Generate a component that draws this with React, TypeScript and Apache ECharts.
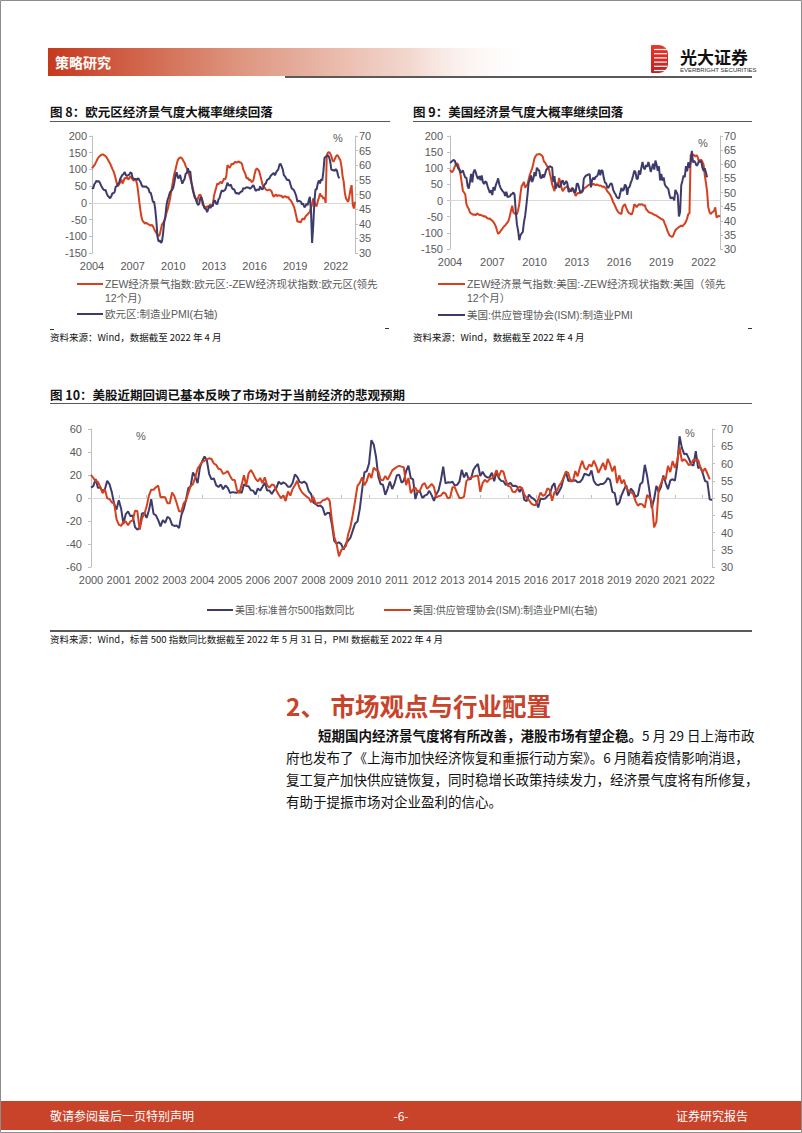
import React, { useEffect, useRef } from "react";
import * as echarts from "echarts";

// ---------------- data ----------------
// Fig 8: ZEW expectations - current situation, euro area (led 12 months), 2004-01 .. 2023-06
const ZEW_EURO: number[] = [
  103, 108, 112, 118, 125, 132, 137, 140, 143, 145, 145, 142,
  140, 136, 130, 124, 118, 110, 102, 95, 85, 72, 58, 50,
  55, 62, 70, 58, 65, 75, 72, 78, 70, 73, 80, 76,
  70, 66, 72, 68, 55, 30, 0, -25, -45, -55, -58, -62,
  -60, -62, -64, -66, -68, -66, -70, -78, -85, -90, -95, -100,
  -95, -80, -65, -60, -55, -45, -30, -20, -5, 10, 30, 50,
  70, 88, 100, 115, 128, 133, 136, 135, 132, 125, 120, 110,
  103, 95, 85, 73, 60, 48, 33, 20, 10, 3, 15, 23,
  25, 15, -5, -8, -12, -15, -10, -12, -8, -5, -8, -10,
  20, 33, 45, 58, 55, 60, 63, 58, 65, 73, 70, 80,
  113, 108, 105, 112, 118, 115, 120, 123, 120, 122, 124, 121,
  121, 115, 100, 93, 85, 73, 75, 68, 70, 65, 62, 68,
  85, 98, 103, 100, 95, 83, 70, 55, 48, 45, 40, 38,
  38, 40, 38, 35, 25, 18, 22, 25, 20, 23, 22, 21,
  21, 15, 18, 20, 18, 15, 18, 10, 8, 2, -5, -12,
  -25, -40, -57, -55, -57, -58, -50, -47, -50, -42, -37, -35,
  -30, -27, -15, -5, 13, 5, -7, -10, 5, 15, 28, 20,
  20, 12, 15, 0, 143, 150, 152, 148, 140, 128, 123, 130,
  138, 143, 140, 133, 128, 110, 80, 63, 30, 13, 8, 3,
  20, 40, 53, -5, -17, 3,
];

// Fig 8: Euro area manufacturing PMI, 2004-01 .. 2022-04
const PMI_EURO: number[] = [
  52.4, 52.0, 53.4, 54.0, 54.7, 54.4, 54.6, 54.0, 53.1, 52.4, 51.8, 51.4,
  51.6, 50.4, 49.5, 49.2, 48.7, 49.3, 50.4, 50.4, 50.8, 52.7, 52.8, 53.6,
  54.0, 55.4, 56.1, 56.7, 57.0, 57.7, 56.6, 56.5, 56.6, 56.8, 57.5, 57.4,
  55.6, 55.4, 55.1, 55.4, 55.0, 55.6, 54.9, 54.3, 53.2, 52.6, 52.8, 52.6,
  52.8, 52.3, 52.0, 50.7, 50.6, 49.2, 47.4, 47.6, 45.0, 41.1, 35.6, 33.9,
  34.4, 33.5, 33.9, 36.8, 40.7, 42.6, 46.3, 48.2, 49.3, 50.7, 51.2, 51.6,
  52.4, 54.2, 56.6, 57.6, 55.8, 55.6, 56.7, 55.1, 53.7, 54.6, 55.3, 57.1,
  57.3, 59.0, 57.5, 58.0, 54.6, 52.0, 50.4, 49.0, 48.5, 47.1, 46.4, 46.9,
  48.8, 49.0, 47.7, 45.9, 45.1, 45.1, 44.0, 45.1, 46.1, 45.4, 46.2, 46.1,
  47.9, 47.9, 46.8, 46.7, 48.3, 48.8, 50.3, 51.4, 51.1, 51.3, 51.6, 52.7,
  54.0, 53.2, 53.0, 53.4, 52.2, 51.8, 51.8, 50.7, 50.3, 50.6, 50.1, 50.6,
  51.0, 51.0, 52.2, 52.0, 52.2, 52.5, 52.4, 52.3, 52.0, 52.3, 52.8, 53.2,
  52.3, 51.2, 51.6, 51.7, 51.5, 52.8, 52.0, 51.7, 52.6, 53.5, 53.7, 54.9,
  55.2, 55.4, 56.2, 56.7, 57.0, 57.4, 56.6, 57.4, 58.1, 58.5, 60.1, 60.6,
  59.6, 58.6, 56.6, 56.2, 55.5, 54.9, 55.1, 54.6, 53.2, 52.0, 51.8, 51.4,
  50.5, 49.3, 47.5, 47.9, 47.7, 47.6, 46.5, 47.0, 45.7, 45.9, 46.9, 46.3,
  47.9, 49.2, 44.5, 33.4, 39.4, 47.4, 51.8, 51.7, 53.7, 54.8, 53.8, 55.2,
  54.8, 57.9, 62.5, 62.9, 63.1, 63.4, 62.8, 61.4, 58.6, 58.3, 58.4, 58.0,
  58.7, 58.2, 56.5, 55.5,
];

// Fig 9: ZEW expectations - current situation, USA (led 12 months), 2004-01 .. 2023-03
const ZEW_US: number[] = [
  95, 90, 88, 95, 105, 112, 116, 110, 95, 80, 55, 30,
  25, 19, -11, -20, -26, -37, -40, -42, -44, -43, -45, -40,
  -42, -45, -44, -46, -47, -50, -48, -52, -55, -57, -55, -60,
  -62, -67, -72, -80, -92, -103, -100, -95, -90, -85, -80, -77,
  -72, -68, -62, -47, -30, -16, -37, -40, -42, -42, -30, -11,
  20, 45, 50, 58, 40, 45, 50, 65, 80, 90, 100, 115,
  131, 138, 143, 143, 144, 143, 140, 136, 121, 118, 111, 105,
  100, 85, 70, 50, 40, 29, 55, 52, 50, 70, 55, 40,
  29, 35, 40, 42, 45, 38, 35, 29, 30, 35, 25, 14,
  20, 24, 22, 25, 29, 32, 36, 40, 42, 45, 48, 50,
  50, 48, 52, 50, 48, 50, 48, 46, 47, 45, 42, 44,
  40, 36, 29, 25, 20, 14, 5, -5, -11, -20, -28, -34,
  -38, -40, -42, -21, -15, -11, -21, -30, -37, -40, -42, -42,
  -30, -11, -15, -21, -15, -11, -14, -11, -12, -16, -14, -26,
  -30, -35, -37, -38, -40, -42, -44, -45, -47, -50, -52, -54,
  -57, -58, -62, -72, -80, -92, -100, -108, -110, -113, -110, -100,
  -92, -88, -85, -82, -80, -77, -80, -75, -72, -65, -55, -42,
  -40, 141, 142, 143, 140, 136, 141, 135, 121, 126, 126, 120,
  111, 80, 55, 29, -21, -35, -42, -37, -35, -31, -21, -52,
  -50, -47, -50,
];

// ISM manufacturing PMI, 2000-01 .. 2022-04 (Fig 9 blue from 2004, Fig 10 red)
const ISM_PMI: number[] = [
  56.7, 55.8, 54.9, 54.7, 53.2, 51.4, 52.5, 49.9, 49.7, 48.7, 48.5, 43.9,
  42.3, 41.9, 43.1, 43.2, 42.1, 43.2, 43.5, 46.3, 46.2, 40.8, 44.1, 45.3,
  47.5, 50.7, 52.4, 52.4, 53.1, 53.6, 50.2, 50.3, 50.2, 48.5, 48.5, 51.6,
  50.5, 48.5, 46.2, 46.0, 48.5, 49.2, 51.5, 53.5, 54.0, 56.0, 58.5, 59.5,
  60.5, 60.8, 61.2, 61.5, 61.3, 60.0, 59.6, 58.5, 58.3, 57.0, 57.3, 57.8,
  56.4, 55.3, 55.2, 52.3, 51.4, 53.8, 56.6, 53.6, 57.1, 58.1, 57.0, 55.6,
  54.8, 55.8, 54.3, 56.0, 53.7, 53.0, 53.9, 53.7, 52.2, 51.0, 49.9, 50.8,
  49.1, 51.9, 50.7, 52.6, 53.7, 55.0, 52.9, 51.7, 51.0, 50.4, 50.0, 48.8,
  50.3, 48.3, 48.6, 48.6, 49.3, 49.5, 50.0, 49.2, 43.4, 38.7, 36.6, 33.1,
  34.9, 35.5, 36.0, 39.5, 41.7, 45.3, 49.2, 53.5, 54.4, 56.0, 53.7, 54.9,
  57.2, 55.8, 58.8, 58.1, 57.8, 55.3, 55.1, 56.4, 55.3, 56.6, 58.0, 58.5,
  59.0, 59.3, 59.1, 58.9, 53.7, 55.8, 51.4, 52.5, 53.0, 51.8, 52.2, 53.8,
  54.3, 52.7, 53.3, 54.1, 53.2, 50.2, 50.5, 50.7, 51.6, 51.3, 49.9, 50.2,
  53.1, 53.1, 51.5, 50.0, 50.0, 50.4, 54.9, 55.6, 56.0, 56.2, 56.4, 56.5,
  51.8, 54.3, 55.3, 54.6, 55.5, 55.7, 56.4, 58.1, 56.1, 57.9, 57.6, 55.1,
  53.5, 53.3, 51.8, 51.7, 52.6, 53.3, 52.9, 51.0, 50.0, 49.4, 48.4, 48.0,
  48.0, 49.7, 51.6, 50.6, 51.0, 52.8, 52.3, 49.2, 51.7, 52.0, 53.5, 54.5,
  56.0, 57.7, 57.2, 54.8, 54.9, 57.8, 56.3, 58.8, 60.8, 58.7, 58.2, 59.7,
  59.1, 60.8, 59.3, 57.3, 58.7, 60.2, 58.1, 61.3, 59.8, 57.7, 59.3, 54.3,
  56.6, 54.2, 55.3, 52.8, 52.1, 51.7, 51.2, 49.1, 47.8, 48.3, 48.1, 47.2,
  50.9, 50.1, 49.1, 41.5, 43.1, 52.6, 54.2, 56.0, 55.4, 59.3, 57.5, 60.7,
  58.7, 60.8, 64.7, 60.7, 61.2, 60.6, 59.5, 59.9, 61.1, 60.8, 61.1, 58.8,
  57.6, 58.6, 57.1, 55.4,
];

// Fig 10: S&P 500 year-on-year %, 2000-01 .. 2022-05
const SPX_YOY: number[] = [
  9.0, 10.3, 16.5, 8.8, 9.1, 6.0, 7.7, 14.9, 12.0, 4.9, -5.3, -10.1,
  -2.0, -9.3, -22.6, -14.0, -11.6, -15.8, -15.3, -25.3, -27.5, -25.9, -13.4, -13.0,
  -17.3, -10.7, -1.1, -13.8, -15.0, -19.2, -24.7, -19.2, -21.7, -16.4, -17.8, -23.4,
  -24.3, -24.0, -26.1, -14.9, -9.7, -1.5, 8.6, 10.0, 22.2, 18.6, 13.0, 26.4,
  32.2, 36.1, 32.8, 20.8, 16.3, 17.1, 11.2, 9.5, 11.9, 7.6, 10.9, 9.0,
  4.4, 5.1, 4.8, 4.5, 6.3, 4.4, 12.0, 10.5, 10.2, 6.8, 6.4, 3.0,
  8.4, 6.4, 9.7, 13.3, 6.6, 6.6, 3.4, 6.8, 8.7, 14.2, 12.1, 13.6,
  12.4, 9.8, 9.7, 13.1, 20.5, 18.4, 14.0, 13.1, 14.3, 12.4, 5.7, 3.5,
  -4.1, -5.4, -6.9, -6.5, -8.5, -14.9, -12.9, -13.0, -23.6, -37.5, -39.5, -38.5,
  -40.1, -44.8, -39.7, -37.0, -34.4, -28.2, -22.1, -20.4, -9.4, 7.0, 22.2, 23.4,
  30.0, 50.3, 46.6, 36.0, 18.5, 12.1, 11.6, 2.8, 8.0, 14.2, 7.8, 12.8,
  19.8, 20.2, 13.4, 14.9, 23.5, 28.1, 17.3, 16.2, -0.9, 5.9, 5.6, 0.0,
  2.0, 2.9, 6.2, 2.5, -2.6, 3.1, 6.7, 15.4, 27.3, 12.7, 13.6, 13.4,
  14.1, 10.9, 11.4, 14.3, 24.5, 17.9, 22.2, 16.1, 16.7, 24.4, 27.5, 29.6,
  19.0, 22.8, 19.3, 17.9, 18.0, 22.0, 14.5, 22.7, 17.3, 14.9, 14.5, 11.4,
  11.9, 13.2, 10.4, 10.7, 9.6, 5.2, 9.0, -1.6, -2.7, 3.0, 0.6, -0.7,
  -2.7, -8.2, -0.4, -1.0, -0.5, 1.7, 3.3, 10.1, 12.9, 2.3, 5.7, 9.5,
  17.5, 22.3, 14.7, 15.4, 15.0, 15.5, 13.7, 13.9, 16.2, 21.1, 20.4, 19.4,
  23.9, 14.8, 11.8, 11.1, 12.2, 12.2, 14.0, 17.4, 15.7, 5.3, 4.3, -6.2,
  -4.2, 2.6, 7.3, 11.2, 1.7, 8.2, 5.8, 0.9, 2.2, 12.0, 13.8, 28.9,
  19.3, 6.1, -8.8, -1.1, 10.6, 5.4, 9.8, 19.6, 13.0, 7.7, 15.3, 16.3,
  15.2, 29.0, 53.7, 43.6, 38.1, 38.6, 34.4, 29.2, 28.1, 40.8, 26.1, 26.9,
  21.6, 14.8, 14.0, -1.2, -1.7,
];

const SERIES_NAMES_8 = ["ZEW经济景气指数:欧元区:-ZEW经济现状指数:欧元区(领先12个月)", "欧元区:制造业PMI(右轴)"];
const SERIES_NAMES_9 = ["ZEW经济景气指数:美国:-ZEW经济现状指数:美国（领先12个月）", "美国:供应管理协会(ISM):制造业PMI"];
const SERIES_NAMES_10 = ["美国:标准普尔500指数同比", "美国:供应管理协会(ISM):制造业PMI(右轴)"];

function monthList(startYear: number, count: number): string[] {
  const out: string[] = [];
  for (let i = 0; i < count; i++) {
    const y = startYear + Math.floor(i / 12);
    const m = (i % 12) + 1;
    out.push(`${y}-${m < 10 ? "0" : ""}${m}`);
  }
  return out;
}
const MONTHS_8 = monthList(2004, 234);
const MONTHS_9 = monthList(2004, 231);
const MONTHS_10 = monthList(2000, 269);
const ISM_FROM_2004 = ISM_PMI.slice(48);

// ---------------- styling ----------------
const RED = "#D5401E";
const BLUE = "#3D3B6B";
const GREY_TEXT = "#595959";
const AXIS_LINE = "#BFBFBF";
const FONT = "'Liberation Sans', 'Noto Sans CJK SC', sans-serif";
const CJK = "'Noto Sans CJK SC', 'Liberation Sans', sans-serif";

function yAxis(gridIndex: number, min: number, max: number, interval: number, position: string, margin: number) {
  return {
    type: "value", gridIndex, min, max, interval, position,
    axisLine: { show: true, onZero: false, lineStyle: { color: AXIS_LINE, width: 1 } },
    axisTick: { show: true, length: 3, lineStyle: { color: AXIS_LINE } },
    splitLine: { show: false },
    axisLabel: { color: GREY_TEXT, fontSize: 11, fontFamily: FONT, margin },
  };
}
function xMain(gridIndex: number, data: string[], every: number) {
  return {
    type: "category", gridIndex, data, boundaryGap: false, position: "bottom",
    axisLine: { show: false, onZero: false },
    axisTick: { show: false },
    splitLine: { show: false },
    axisLabel: {
      color: GREY_TEXT, fontSize: 11, fontFamily: FONT, margin: 7,
      interval: (i: number) => i % every === 0,
      formatter: (v: string) => v.slice(0, 4),
    },
  };
}
function xZero(gridIndex: number, data: string[], tickEvery: number | null) {
  return {
    type: "category", gridIndex, data, boundaryGap: false, position: "top",
    axisLine: { show: true, onZero: true, lineStyle: { color: "#D9D9D9", width: 1 } },
    axisTick: tickEvery
      ? { show: true, length: 3, inside: false, interval: (i: number) => i % tickEvery === 0, lineStyle: { color: AXIS_LINE } }
      : { show: false },
    axisLabel: { show: false },
    splitLine: { show: false },
  };
}
function lineSeries(name: string, data: number[], color: string, xi: number, yi: number) {
  return {
    name, type: "line", data, xAxisIndex: xi, yAxisIndex: yi,
    showSymbol: false, symbol: "none", silent: true,
    lineStyle: { width: 2, color }, itemStyle: { color },
  };
}

function txt(x: number, y: number, text: string, size: number, fill: string, opts: any = {}) {
  return {
    type: "text", x, y, silent: true,
    style: {
      text, fill, fontSize: size, fontFamily: opts.family || CJK, fontWeight: opts.weight || "normal",
      align: opts.align || "left", verticalAlign: "middle",
      textAlign: opts.align || "left", textVerticalAlign: "middle",
    },
  };
}
function ln(x1: number, y1: number, x2: number, y2: number, stroke: string, w: number) {
  return { type: "line", silent: true, shape: { x1, y1, x2, y2 }, style: { stroke, lineWidth: w } };
}

function buildGraphics() {
  const g: any[] = [];
  // page border
  g.push({ type: "rect", silent: true, shape: { x: 0.5, y: 0.5, width: 801, height: 1132 }, style: { fill: "none", stroke: "#8C8C8C", lineWidth: 1 } });
  // header
  g.push({
    type: "rect", silent: true, shape: { x: 48, y: 48, width: 484, height: 28 },
    style: {
      fill: new echarts.graphic.LinearGradient(0, 0, 1, 0, [
        { offset: 0, color: "#C6391D" },
        { offset: 0.4, color: "#DE9680" },
        { offset: 0.75, color: "#F3D8CF" },
        { offset: 1, color: "rgba(255,255,255,0)" },
      ]),
    },
  });
  g.push(txt(55, 62, "策略研究", 14, "#FFFFFF", { weight: "bold" }));
  g.push(ln(285, 77, 752, 77, "#5A5A5A", 2));
  // logo
  g.push({
    type: "rect", silent: true, shape: { x: 651, y: 45, width: 17, height: 28, r: [1, 9, 9, 1] },
    style: { fill: new echarts.graphic.LinearGradient(0, 0, 0, 1, [{ offset: 0, color: "#E8382C" }, { offset: 1, color: "#C41E1E" }]) },
  });
  for (let k = 0; k < 6; k++) g.push(ln(654, 49.5 + k * 4.2, 667, 49.5 + k * 4.2, "#FFFFFF", 1.2));
  g.push(txt(680, 56, "光大证券", 17, "#111111", { weight: "bold" }));
  g.push(txt(680, 70, "EVERBRIGHT SECURITIES", 6, "#333333", { family: FONT }));

  // Fig 8 / Fig 9 titles
  g.push(txt(50, 111, "图 8：欧元区经济景气度大概率继续回落", 12.5, "#111111", { weight: "bold" }));
  g.push(ln(50, 121.5, 390, 121.5, "#595959", 1));
  g.push(txt(413, 111, "图 9：美国经济景气度大概率继续回落", 12.5, "#111111", { weight: "bold" }));
  g.push(ln(413, 121.5, 752, 121.5, "#595959", 1));
  // percent marks
  g.push(txt(338, 138, "%", 11, GREY_TEXT, { family: FONT, align: "center" }));
  g.push(txt(703, 143, "%", 11, GREY_TEXT, { family: FONT, align: "center" }));
  // Fig 8 legend
  g.push(ln(77, 284, 103, 284, RED, 2));
  g.push(txt(105, 284, "ZEW经济景气指数:欧元区:-ZEW经济现状指数:欧元区(领先", 10.5, GREY_TEXT, { family: FONT }));
  g.push(txt(105, 298, "12个月)", 10.5, GREY_TEXT, { family: FONT }));
  g.push(ln(77, 314, 103, 314, BLUE, 2));
  g.push(txt(105, 314, "欧元区:制造业PMI(右轴)", 10.5, GREY_TEXT, { family: FONT }));
  // Fig 9 legend
  g.push(ln(438, 284, 465, 284, RED, 2));
  g.push(txt(467, 284, "ZEW经济景气指数:美国:-ZEW经济现状指数:美国（领先", 10.5, GREY_TEXT, { family: FONT }));
  g.push(txt(467, 298, "12个月）", 10.5, GREY_TEXT, { family: FONT }));
  g.push(ln(438, 315, 465, 315, BLUE, 2));
  g.push(txt(467, 315, "美国:供应管理协会(ISM):制造业PMI", 10.5, GREY_TEXT, { family: FONT }));
  // small marks and sources
  g.push(ln(50, 329.5, 54, 329.5, "#333333", 1));
  g.push(ln(385, 328.5, 389, 328.5, "#333333", 1));
  g.push(ln(748, 328.5, 752, 328.5, "#333333", 1));
  g.push(txt(50, 337, "资料来源：Wind，数据截至 2022 年 4 月", 9.5, "#111111"));
  g.push(txt(413, 337, "资料来源：Wind，数据截至 2022 年 4 月", 9.5, "#111111"));

  // Fig 10
  g.push(txt(50, 394, "图 10：美股近期回调已基本反映了市场对于当前经济的悲观预期", 12.5, "#111111", { weight: "bold" }));
  g.push(ln(50, 403.5, 752, 403.5, "#595959", 1));
  g.push(txt(141, 436, "%", 11, GREY_TEXT, { family: FONT, align: "center" }));
  g.push(txt(690, 433, "%", 11, GREY_TEXT, { family: FONT, align: "center" }));
  g.push(ln(207, 610, 233, 610, BLUE, 2));
  g.push(txt(235, 610, "美国:标准普尔500指数同比", 10, GREY_TEXT, { family: FONT }));
  g.push(ln(384, 610, 411, 610, RED, 2));
  g.push(txt(413, 610, "美国:供应管理协会(ISM):制造业PMI(右轴)", 10, GREY_TEXT, { family: FONT }));
  g.push(ln(50, 631, 752, 631, "#595959", 2));
  g.push(txt(50, 639, "资料来源：Wind，标普 500 指数同比数据截至 2022 年 5 月 31 日，PMI 数据截至 2022 年 4 月", 9.5, "#111111"));

  // Section 2
  g.push(txt(286, 705, "2、 市场观点与行业配置", 24.5, "#C8432A", { weight: "bold" }));
  g.push({
    type: "text", x: 318, y: 735, silent: true,
    style: {
      text: "{b|短期国内经济景气度将有所改善，港股市场有望企稳。}{n|5 月 29 日上海市政}",
      verticalAlign: "middle", textVerticalAlign: "middle",
      rich: {
        b: { fontSize: 13.5, fontWeight: "bold", fontFamily: CJK, fill: "#111111" },
        n: { fontSize: 13.5, fontFamily: CJK, fill: "#111111" },
      },
    },
  });
  g.push(txt(286, 757, "府也发布了《上海市加快经济恢复和重振行动方案》。6 月随着疫情影响消退，", 13.5, "#111111"));
  g.push(txt(286, 779, "复工复产加快供应链恢复，同时稳增长政策持续发力，经济景气度将有所修复，", 13.5, "#111111"));
  g.push(txt(286, 801, "有助于提振市场对企业盈利的信心。", 13.5, "#111111"));

  // footer
  g.push({ type: "rect", silent: true, shape: { x: 1, y: 1101, width: 800, height: 29 }, style: { fill: "#C8432A" } });
  g.push(txt(50, 1115, "敬请参阅最后一页特别声明", 12, "#FFFFFF"));
  g.push(txt(401, 1115, "-6-", 12, "#FFFFFF", { align: "center" }));
  g.push(txt(748, 1115, "证券研究报告", 12, "#FFFFFF", { align: "right" }));
  return g;
}

export default function App() {
  const ref = useRef<HTMLDivElement>(null);
  useEffect(() => {
    if (!ref.current) return;
    const chart = echarts.init(ref.current, undefined, { renderer: "svg" });
    const option: any = {
      animation: false,
      backgroundColor: "#FFFFFF",
      grid: [
        { left: 92, top: 136, width: 263, height: 117, containLabel: false },
        { left: 450, top: 136, width: 270, height: 113, containLabel: false },
        { left: 91, top: 429, width: 621, height: 138, containLabel: false },
      ],
      xAxis: [
        xMain(0, MONTHS_8, 36), xZero(0, MONTHS_8, null),
        xMain(1, MONTHS_9, 36), xZero(1, MONTHS_9, null),
        xMain(2, MONTHS_10, 12), xZero(2, MONTHS_10, 12),
      ],
      yAxis: [
        yAxis(0, -150, 200, 50, "left", 5), yAxis(0, 30, 70, 5, "right", 4),
        yAxis(1, -150, 200, 50, "left", 7), yAxis(1, 30, 70, 5, "right", 4),
        yAxis(2, -60, 60, 20, "left", 9), yAxis(2, 30, 70, 5, "right", 9),
      ],
      series: [
        lineSeries(SERIES_NAMES_8[0], ZEW_EURO, RED, 0, 0),
        lineSeries(SERIES_NAMES_8[1], PMI_EURO, BLUE, 0, 1),
        lineSeries(SERIES_NAMES_9[0], ZEW_US, RED, 2, 2),
        lineSeries(SERIES_NAMES_9[1], ISM_FROM_2004, BLUE, 2, 3),
        lineSeries(SERIES_NAMES_10[0], SPX_YOY, BLUE, 4, 4),
        lineSeries(SERIES_NAMES_10[1], ISM_PMI, RED, 4, 5),
      ],
      graphic: buildGraphics(),
    };
    chart.setOption(option);
    return () => chart.dispose();
  }, []);
  return (
    <div
      ref={ref}
      style={{ position: "absolute", left: 0, top: 0, width: 802, height: 1133, background: "#fff" }}
    />
  );
}
